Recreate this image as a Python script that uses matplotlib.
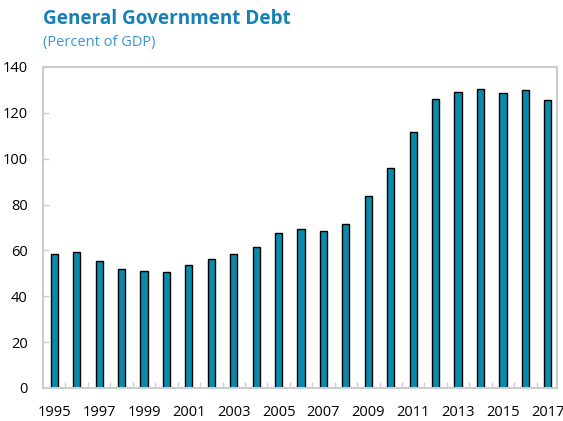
import numpy as np
import matplotlib
matplotlib.use("Agg")
import matplotlib.pyplot as plt
from matplotlib.ticker import MultipleLocator

# Dette publique (% du PIB)
years = list(range(1995, 2018))
debt = [58.4, 59.4, 55.2, 51.8, 51.1, 50.4, 53.5, 56.1, 58.4, 61.6, 67.5, 69.2,
        68.3, 71.7, 83.6, 96.1, 111.6, 126.2, 129.0, 130.5, 128.8, 129.8, 125.7]
year_labels = [str(y) for y in years[::2]]

title = "General Government Debt"
subtitle = "(Percent of GDP)"

plt.rcParams['font.family'] = ['Open Sans', 'DejaVu Sans']

fig = plt.figure(figsize=(5.63, 4.21), dpi=100)
ax = fig.add_axes([0.0764, 0.0784, 0.9126, 0.7626])

ax.bar(years, debt, width=0.32, color='#0a89ab', edgecolor='black', linewidth=1.0)

ax.set_xlim(1994.5, 2017.4)
ax.set_ylim(0, 140)
ax.yaxis.set_major_locator(MultipleLocator(20))
ax.set_xticks(years[::2])
ax.set_xticklabels(year_labels)
ax.set_xticks(np.array(years[:-1]) + 0.5, minor=True)

for s in ax.spines.values():
    s.set_color('#cccccc')
    s.set_linewidth(1.5)

ax.tick_params(axis='x', which='major', length=0, pad=12, labelsize=10.5, colors='black')
ax.tick_params(axis='x', which='minor', length=4, width=1, direction='in', color='#cccccc')
ax.tick_params(axis='y', which='major', length=4, width=1, direction='in', color='#cccccc',
               labelsize=10.5, labelcolor='black', pad=11)

fig.text(0.0764, 0.955, title, fontsize=13.6, fontweight='bold', color='#1481b8', va='center')
fig.text(0.0764, 0.9, subtitle, fontsize=10.5, color='#3a98c9', va='center')

plt.savefig('out.png', dpi=100)
